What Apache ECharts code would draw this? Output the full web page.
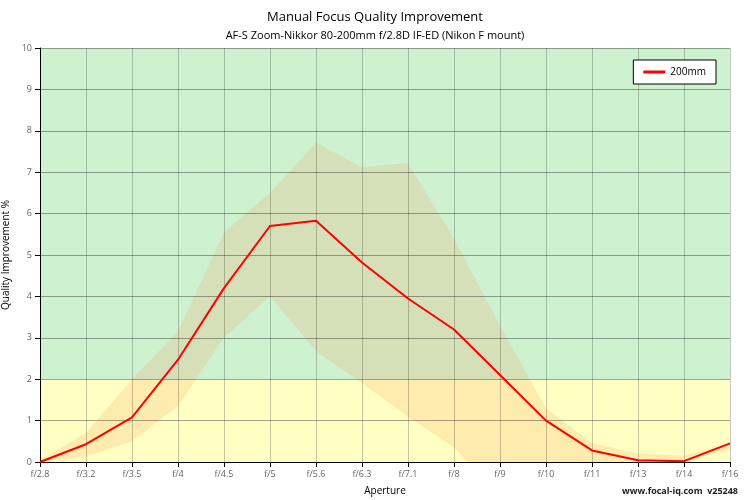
<!DOCTYPE html><html><head><meta charset="utf-8">
<script src="https://cdn.jsdelivr.net/npm/echarts@6/dist/echarts.min.js"></script>
<style>body{margin:0}#c{width:750px;height:500px}</style></head><body><div id="c"></div>
<script>
const categories=['f/2.8','f/3.2','f/3.5','f/4','f/4.5','f/5','f/5.6','f/6.3','f/7.1','f/8','f/9','f/10','f/11','f/13','f/14','f/16'];
const values=[0,0.43,1.08,2.47,4.2,5.7,5.83,4.82,3.95,3.2,2.1,1.0,0.28,0.04,0.02,0.45];
const upper=[0.05,0.7,2.0,3.15,5.55,6.5,7.72,7.12,7.22,5.4,3.3,1.3,0.45,0.2,0.15,0.45];
const lower=[0,0.13,0.5,1.35,3.0,4.0,2.68,1.9,1.1,0.35,-0.8,0,0,0,0,0.3];
const yTicks=[0,1,2,3,4,5,6,7,8,9,10];
const ch=echarts.init(document.getElementById('c'));
const font='"Open Sans", sans-serif';
ch.setOption({
 animation:false,
 title:{text:'Manual Focus Quality Improvement',subtext:'AF-S Zoom-Nikkor 80-200mm f/2.8D IF-ED (Nikon F mount)',left:'center',top:6,itemGap:6,
  textStyle:{fontFamily:font,fontSize:13,fontWeight:'normal',color:'#000'},subtextStyle:{fontFamily:font,fontSize:11,color:'#000'}},
 grid:{left:40,right:20,top:48,bottom:38,containLabel:false,outerBoundsMode:'none'},
 legend:{data:['200mm'],right:34,top:60,orient:'vertical',backgroundColor:'#fff',borderColor:'#000',borderWidth:1,padding:[7,10],
  itemWidth:22,itemHeight:3,icon:'rect',textStyle:{fontFamily:font,fontSize:10,color:'#000'}},
 xAxis:{type:'category',z:3,data:categories,boundaryGap:false,name:'Aperture',nameLocation:'middle',nameGap:24,
  nameTextStyle:{fontFamily:font,fontSize:10,color:'#000'},
  axisLine:{lineStyle:{color:'#000'}},axisTick:{show:true,length:5,lineStyle:{color:'#000'}},
  axisLabel:{fontFamily:font,fontSize:9,color:'#666',margin:8},
  splitLine:{show:true,lineStyle:{color:'rgba(0,0,0,0.22)'}}},
 yAxis:{type:'value',z:3,min:0,max:10,interval:1,name:'Quality Improvement %',nameLocation:'middle',nameGap:20,
  nameTextStyle:{fontFamily:font,fontSize:10,color:'#000'},
  axisLine:{show:true,lineStyle:{color:'#000'}},axisTick:{show:true,length:5,lineStyle:{color:'#000'}},
  axisLabel:{fontFamily:font,fontSize:9,color:'#666',formatter:v=>yTicks.includes(v)?String(v):''},
  splitLine:{lineStyle:{color:'rgba(0,0,0,0.35)'}}},
 graphic:[{type:'text',left:50,top:60,style:{text:'FoCal',fontFamily:font,fontSize:18,fill:'#a8c8a0'}},
  {type:'text',left:112,top:64,style:{text:'iQ',fontFamily:font,fontSize:34,fontWeight:'bold',fill:'#9aa89a'}},
  {type:'text',right:12,bottom:4,style:{text:'www.focal-iq.com  v25248',fontFamily:font,fontSize:9,fontWeight:'bold',fill:'#222'}}],
 series:[
  {name:'base',type:'line',data:lower,stack:'b',stackStrategy:'all',symbol:'none',lineStyle:{opacity:0},silent:true,z:1,
   markArea:{silent:true,data:[[{yAxis:2,itemStyle:{color:'#cef1cf'}},{yAxis:10}],[{yAxis:0,itemStyle:{color:'#fffec3'}},{yAxis:2}]]}},
  {name:'band',type:'line',data:upper.map((u,i)=>+(u-lower[i]).toFixed(2)),stack:'b',stackStrategy:'all',symbol:'none',lineStyle:{opacity:0},
   areaStyle:{color:'rgba(250,160,90,0.28)'},silent:true,z:2},
  {name:'200mm',type:'line',data:values,symbol:'none',lineStyle:{color:'#ff0000',width:2},itemStyle:{color:'#ff0000'},z:5}
 ]
});
</script></body></html>
